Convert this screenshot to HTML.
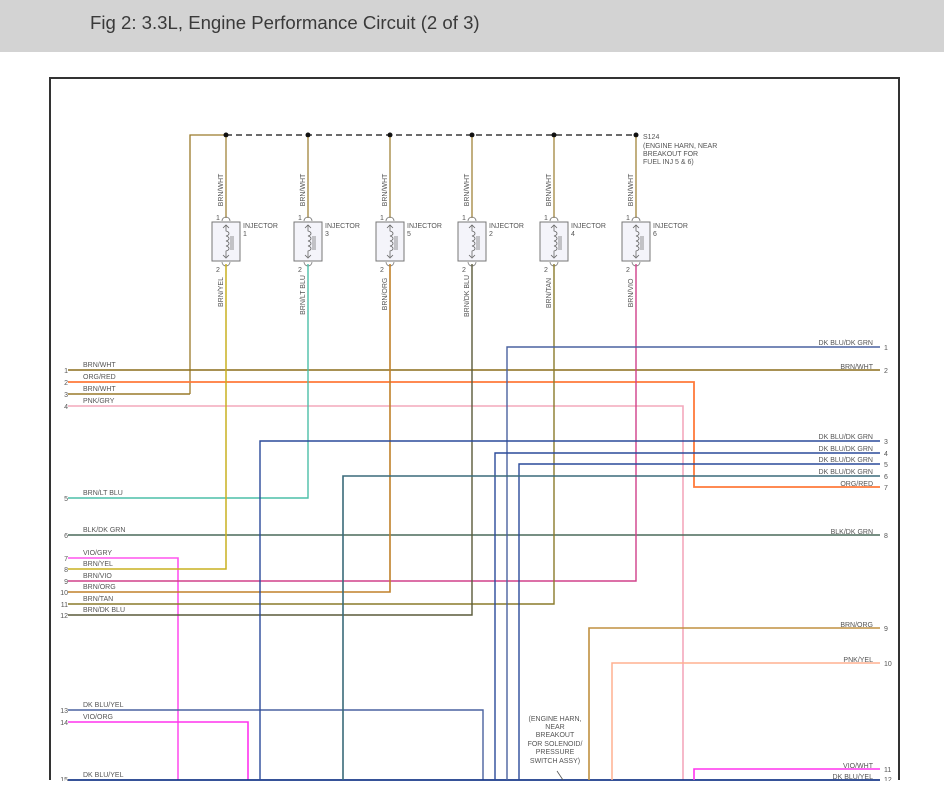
<!DOCTYPE html>
<html><head><meta charset="utf-8"><style>
html,body{margin:0;padding:0;background:#fff;}
body{width:944px;height:796px;overflow:hidden;position:relative;font-family:"Liberation Sans",sans-serif;}
.hdr{position:absolute;left:0;top:0;width:944px;height:52px;background:#d3d3d3;}
.hdr span{position:absolute;left:90px;top:12px;font-size:18.6px;color:#3a3a3a;}
svg{position:absolute;left:0;top:0;}
text{font-family:"Liberation Sans",sans-serif;font-size:7px;fill:#555;}
</style></head><body>
<div class="hdr"><span>Fig 2: 3.3L, Engine Performance Circuit (2 of 3)</span></div>
<svg width="944" height="796" viewBox="0 0 944 796">
<defs>
<g id="inj">
<path d="M-4,221 a4,4 0 0 1 8,0" fill="none" stroke="#777" stroke-width="0.8"/>
<rect x="-14" y="222" width="28" height="39" fill="#f4f4fa" stroke="#777" stroke-width="1"/>
<path d="M0,225 v6 c4,1 4,4 0,5 c4,1 4,4 0,5 c4,1 4,4 0,5 c4,1 4,4 0,5 v6" fill="none" stroke="#666" stroke-width="0.8"/>
<path d="M-3,228 l3,-3 l3,3 M-3,255 l3,3 l3,-3" fill="none" stroke="#666" stroke-width="0.8"/>
<path d="M5,236 v14 M7,236 v14" stroke="#666" stroke-width="0.7"/>
<path d="M-4,262 a4,4 0 0 0 8,0" fill="none" stroke="#777" stroke-width="0.8"/>
</g>
</defs>
<path d="M50,780 V78 H899 V780" fill="none" stroke="#333" stroke-width="2"/>
<path d="M190,394 V135 H226" fill="none" stroke="#9a7a2a" stroke-width="1.3"/>
<line x1="226" y1="135" x2="636" y2="135" stroke="#111" stroke-width="1.2" stroke-dasharray="6,4"/>
<g fill="#111"><circle cx="226" cy="135" r="2.5"/><circle cx="308" cy="135" r="2.5"/><circle cx="390" cy="135" r="2.5"/><circle cx="472" cy="135" r="2.5"/><circle cx="554" cy="135" r="2.5"/><circle cx="636" cy="135" r="2.5"/></g>
<text x="643" y="139">S124</text>
<text x="643" y="148">(ENGINE HARN, NEAR</text>
<text x="643" y="156">BREAKOUT FOR</text>
<text x="643" y="164">FUEL INJ 5 &amp; 6)</text>
<g stroke="#9a7a2a" stroke-width="1.2">
<line x1="226" y1="137" x2="226" y2="218"/><line x1="308" y1="137" x2="308" y2="218"/><line x1="390" y1="137" x2="390" y2="218"/><line x1="472" y1="137" x2="472" y2="218"/><line x1="554" y1="137" x2="554" y2="218"/><line x1="636" y1="137" x2="636" y2="218"/>
</g>
<use href="#inj" x="226"/><use href="#inj" x="308"/><use href="#inj" x="390"/><use href="#inj" x="472"/><use href="#inj" x="554"/><use href="#inj" x="636"/>
<g>
<text x="216" y="220">1</text><text x="216" y="272">2</text><text x="243" y="228">INJECTOR</text><text x="243" y="236">1</text>
<text x="298" y="220">1</text><text x="298" y="272">2</text><text x="325" y="228">INJECTOR</text><text x="325" y="236">3</text>
<text x="380" y="220">1</text><text x="380" y="272">2</text><text x="407" y="228">INJECTOR</text><text x="407" y="236">5</text>
<text x="462" y="220">1</text><text x="462" y="272">2</text><text x="489" y="228">INJECTOR</text><text x="489" y="236">2</text>
<text x="544" y="220">1</text><text x="544" y="272">2</text><text x="571" y="228">INJECTOR</text><text x="571" y="236">4</text>
<text x="626" y="220">1</text><text x="626" y="272">2</text><text x="653" y="228">INJECTOR</text><text x="653" y="236">6</text>
</g>
<g text-anchor="middle">
<text transform="translate(223,190) rotate(-90)">BRN/WHT</text>
<text transform="translate(305,190) rotate(-90)">BRN/WHT</text>
<text transform="translate(387,190) rotate(-90)">BRN/WHT</text>
<text transform="translate(469,190) rotate(-90)">BRN/WHT</text>
<text transform="translate(551,190) rotate(-90)">BRN/WHT</text>
<text transform="translate(633,190) rotate(-90)">BRN/WHT</text>
<text transform="translate(223,292) rotate(-90)">BRN/YEL</text>
<text transform="translate(305,295) rotate(-90)">BRN/LT BLU</text>
<text transform="translate(387,294) rotate(-90)">BRN/ORG</text>
<text transform="translate(469,296) rotate(-90)">BRN/DK BLU</text>
<text transform="translate(551,293) rotate(-90)">BRN/TAN</text>
<text transform="translate(633,293) rotate(-90)">BRN/VIO</text>
</g>
<g fill="none" stroke-width="1.4">
<path d="M68,370 H880" stroke="#8b6d1a"/>
<path d="M68,382 H694 V487 H880" stroke="#ff7a3a" stroke-width="1.8"/>
<path d="M68,394 H190" stroke="#9a7a2a"/>
<path d="M68,406 H683 V780" stroke="#f4a8bc" stroke-width="1.6"/>
<path d="M68,498 H308 V264" stroke="#4cbfa8"/>
<path d="M68,535 H880" stroke="#4a6a5a"/>
<path d="M68,558 H178 V780" stroke="#ff55ee" stroke-width="1.6"/>
<path d="M68,569 H226 V264" stroke="#c9b020" stroke-width="1.5"/>
<path d="M68,581 H636 V264" stroke="#d0408a"/>
<path d="M68,592 H390 V264" stroke="#c0802a" stroke-width="1.6"/>
<path d="M68,604 H554 V264" stroke="#8a7a2a"/>
<path d="M68,615 H472 V264" stroke="#5a5a3a"/>
<path d="M68,710 H483 V780" stroke="#4a62a0"/>
<path d="M68,722 H248 V780" stroke="#ff33ee" stroke-width="1.6"/>
<path d="M68,780 H880" stroke="#1a3a8a" stroke-width="1.8"/>
<path d="M507,780 V347 H880" stroke="#4a62a0"/>
<path d="M260,780 V441 H880" stroke="#2a4a9a"/>
<path d="M495,780 V453 H880" stroke="#2a4a9a"/>
<path d="M519,780 V464 H880" stroke="#2a4a9a"/>
<path d="M343,780 V476 H880" stroke="#3a6a7a" stroke-width="1.6"/>
<path d="M589,780 V628 H880" stroke="#c09040" stroke-width="1.6"/>
<path d="M612,780 V663 H880" stroke="#ffb090" stroke-width="1.5"/>
<path d="M694,780 V769 H880" stroke="#ff33ee" stroke-width="1.6"/>
<path d="M557,771 L563,780" stroke="#555" stroke-width="0.8"/>
</g>
<g text-anchor="end">
<text x="68" y="373">1</text><text x="68" y="385">2</text><text x="68" y="397">3</text><text x="68" y="409">4</text>
<text x="68" y="501">5</text><text x="68" y="538">6</text><text x="68" y="561">7</text><text x="68" y="572">8</text>
<text x="68" y="584">9</text><text x="68" y="595">10</text><text x="68" y="607">11</text><text x="68" y="618">12</text>
<text x="68" y="713">13</text><text x="68" y="725">14</text><text x="68" y="782">15</text>
</g>
<g>
<text x="83" y="367">BRN/WHT</text><text x="83" y="379">ORG/RED</text><text x="83" y="391">BRN/WHT</text><text x="83" y="403">PNK/GRY</text>
<text x="83" y="495">BRN/LT BLU</text><text x="83" y="532">BLK/DK GRN</text><text x="83" y="555">VIO/GRY</text>
<text x="83" y="566">BRN/YEL</text><text x="83" y="578">BRN/VIO</text><text x="83" y="589">BRN/ORG</text>
<text x="83" y="601">BRN/TAN</text><text x="83" y="612">BRN/DK BLU</text>
<text x="83" y="707">DK BLU/YEL</text><text x="83" y="719">VIO/ORG</text><text x="83" y="777">DK BLU/YEL</text>
</g>
<g text-anchor="end">
<text x="873" y="345">DK BLU/DK GRN</text><text x="873" y="369">BRN/WHT</text>
<text x="873" y="439">DK BLU/DK GRN</text><text x="873" y="451">DK BLU/DK GRN</text>
<text x="873" y="462">DK BLU/DK GRN</text><text x="873" y="474">DK BLU/DK GRN</text>
<text x="873" y="486">ORG/RED</text><text x="873" y="534">BLK/DK GRN</text>
<text x="873" y="627">BRN/ORG</text><text x="873" y="662">PNK/YEL</text>
<text x="873" y="768">VIO/WHT</text><text x="873" y="779">DK BLU/YEL</text>
</g>
<g>
<text x="884" y="350">1</text><text x="884" y="373">2</text><text x="884" y="444">3</text><text x="884" y="456">4</text>
<text x="884" y="467">5</text><text x="884" y="479">6</text><text x="884" y="490">7</text><text x="884" y="538">8</text>
<text x="884" y="631">9</text><text x="884" y="666">10</text><text x="884" y="772">11</text><text x="884" y="782">12</text>
</g>
<g text-anchor="middle">
<text x="555" y="721">(ENGINE HARN,</text><text x="555" y="729">NEAR</text><text x="555" y="737">BREAKOUT</text>
<text x="555" y="746">FOR SOLENOID/</text><text x="555" y="754">PRESSURE</text><text x="555" y="763">SWITCH ASSY)</text>
</g>
<rect x="0" y="781" width="944" height="15" fill="#fff"/>
</svg>
</body></html>
